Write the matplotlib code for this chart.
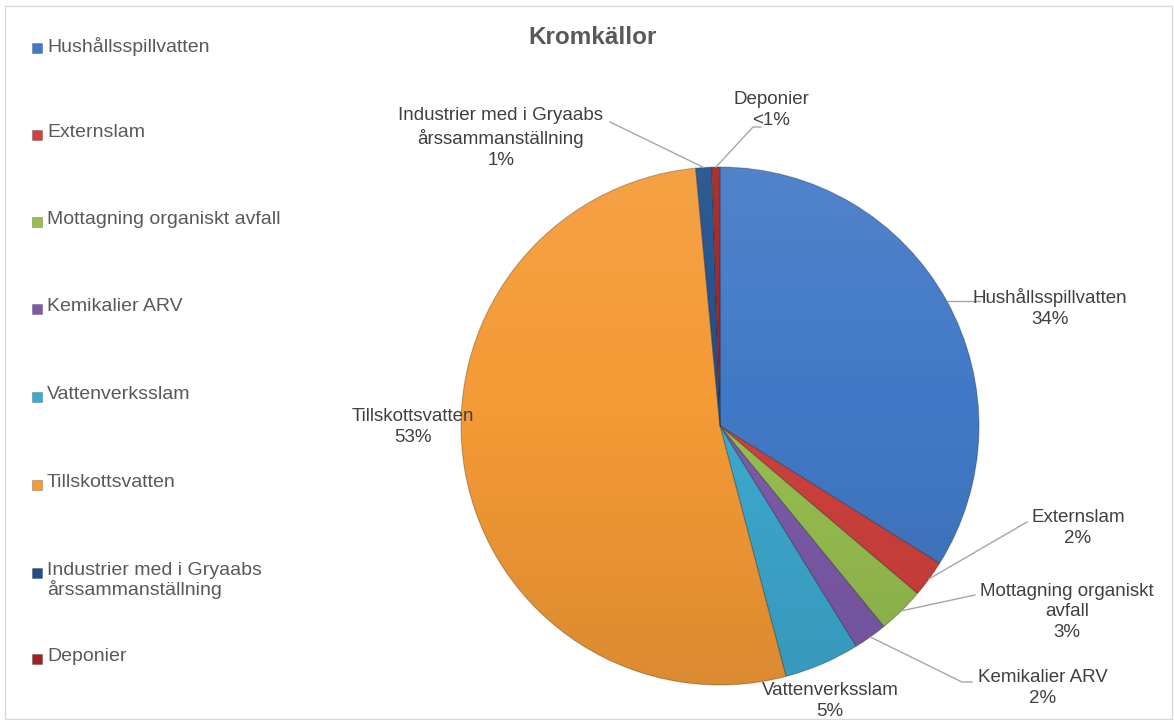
import numpy as np
import matplotlib.pyplot as plt
from matplotlib.patches import Rectangle, Circle

plt.rcParams['font.family'] = ['Liberation Sans', 'DejaVu Sans']

# data
categories = ["Hushållsspillvatten", "Externslam", "Mottagning organiskt avfall",
              "Kemikalier ARV", "Vattenverksslam", "Tillskottsvatten",
              "Industrier med i Gryaabs\nårssammanställning", "Deponier"]
label_names = ["Hushållsspillvatten", "Externslam", "Mottagning organiskt\navfall",
               "Kemikalier ARV", "Vattenverksslam", "Tillskottsvatten",
               "Industrier med i Gryaabs\nårssammanställning", "Deponier"]
values = [33.9, 2.3, 2.9, 2.1, 4.7, 52.6, 1.0, 0.5]
colors = ["#4279C6", "#CF413D", "#97BF50", "#7D5BAB", "#3DA9CF", "#F49A36", "#1F4E8A", "#A3221F"]

W, H = 1174, 720
cx, cy, r = 720, 426, 259

# label layout (pixel coords, y from top)
label_pos = [(1050, 308), (1078, 528), (1067, 612), (1043, 688),
             (830, 701), (413, 427), (501, 138), (771, 110)]
leader_pts = [[(980, 300)],
              [(1027, 522)],
              [(975, 595)],
              [(962, 682), (972, 682)],
              None,
              None,
              [(610, 122)],
              [(753, 127), (761, 127)]]
legend_y = [48, 135, 222, 309, 397, 485, 573, 659]

fig = plt.figure(figsize=(W / 100, H / 100), dpi=100)
ax = fig.add_axes([0, 0, 1, 1])

cyb = H - cy
wedges, _ = ax.pie(values, colors=colors, startangle=90, counterclock=False,
                   center=(cx, cyb), radius=r,
                   wedgeprops=dict(edgecolor=(0, 0, 0, 0.25), linewidth=0.8))

# soft vertical shading like the original
grad = np.zeros((200, 1, 4))
t = np.linspace(0, 1, 200)
grad[:, 0, :3] = np.where(t[:, None] < 0.45, 1.0, 0.0)
grad[:, 0, 3] = np.where(t < 0.45, 0.08 * (0.45 - t) / 0.45, 0.10 * (t - 0.45) / 0.55)
im = ax.imshow(grad, extent=(cx - r, cx + r, cyb - r, cyb + r), origin='upper',
               aspect='auto', zorder=3)
im.set_clip_path(Circle((cx, cyb), r, transform=ax.transData))

ax.set_xlim(0, W)
ax.set_ylim(0, H)
ax.axis('off')

# border
ax.add_patch(Rectangle((5, 1), W - 7, H - 7, fill=False, edgecolor="#d9d9d9", linewidth=1))

ax.text(593, H - 37, "Kromkällor", ha='center', va='center', fontsize=17.5,
        fontweight='bold', color="#595959")

# data labels and leader lines
for i, w in enumerate(wedges):
    v = values[i]
    pct = f"{round(v)}%" if v >= 1 else "<1%"
    lx, ly = label_pos[i]
    ax.text(lx, H - ly, label_names[i] + "\n" + pct, ha='center', va='center',
            fontsize=13.5, color="#404040", linespacing=1.3, zorder=5)
    if leader_pts[i] is not None:
        th = np.deg2rad((w.theta1 + w.theta2) / 2)
        sx, sy = cx + r * np.cos(th), cyb + r * np.sin(th)
        if i == 0:
            pts = [(sx, sy), (leader_pts[i][0][0], sy)]
        else:
            pts = [(sx, sy)] + [(px, H - py) for px, py in leader_pts[i]]
        xs, ys = zip(*pts)
        ax.plot(xs, ys, color="#a6a6a6", linewidth=1, zorder=4)

# legend
for i, name in enumerate(categories):
    y = H - legend_y[i]
    ax.add_patch(Rectangle((32, y - 5), 10, 10, facecolor=colors[i],
                           edgecolor=(0, 0, 0, 0.3), linewidth=0.5))
    ax.text(47, y + 11, name, ha='left', va='top', fontsize=14,
            color="#595959", linespacing=1.05)

fig.savefig("out.png", dpi=100)
